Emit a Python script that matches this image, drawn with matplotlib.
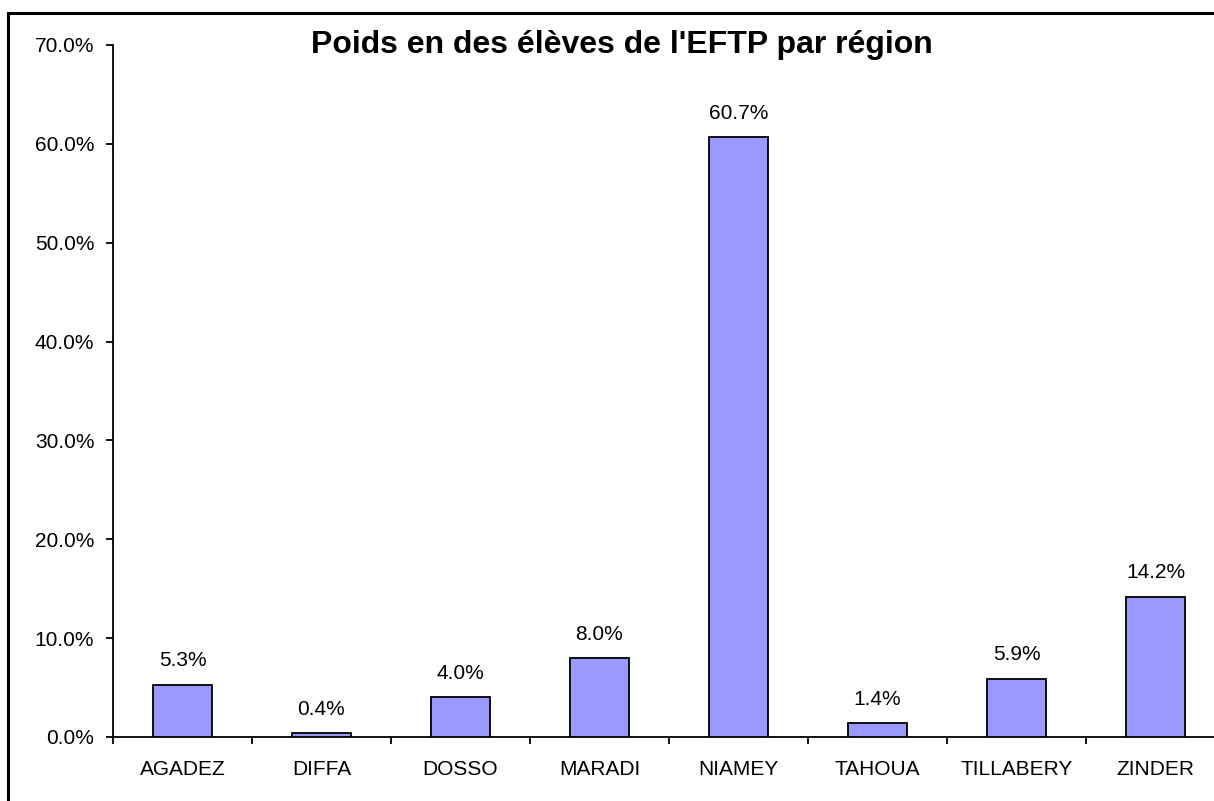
import matplotlib.pyplot as plt
import matplotlib.patches as mpatches
from matplotlib.ticker import FuncFormatter, FixedLocator
import numpy as np

plt.rcParams['font.family'] = ['Liberation Sans', 'DejaVu Sans']

# données
regions = ['AGADEZ', 'DIFFA', 'DOSSO', 'MARADI', 'NIAMEY', 'TAHOUA', 'TILLABERY', 'ZINDER']
poids = [5.3, 0.4, 4.0, 8.0, 60.7, 1.4, 5.9, 14.2]
titre = "Poids en des élèves de l'EFTP par région"

fig = plt.figure(figsize=(12.14, 8.01), dpi=100)

# cadre extérieur (coupé à droite et en bas)
W, H = 1214, 801
cadre = mpatches.Rectangle((8 / W, -0.1), 1.2, (801 - 13) / H + 0.1, transform=fig.transFigure,
                           fill=False, edgecolor='black', linewidth=2.2, clip_on=False)
fig.patches.append(cadre)

ax = fig.add_axes([113 / W, 1 - 737 / H, 1112 / W, (737 - 45) / H])

x = np.arange(len(regions))
ax.bar(x, poids, width=0.42, color='#9999FF', edgecolor='black', linewidth=1.3, zorder=3)
for xi, v in zip(x, poids):
    ax.text(xi, v + 1.85, f'{v:.1f}%', ha='center', va='baseline', fontsize=15)

ax.set_xlim(-0.5, len(regions) - 0.5)
ax.set_ylim(0, 70)
ax.yaxis.set_major_locator(FixedLocator(np.arange(0, 71, 10)))
ax.yaxis.set_major_formatter(FuncFormatter(lambda v, p: f'{v:.1f}%'))

ax.set_xticks(x)
ax.set_xticklabels(regions)
ax.set_xticks(np.arange(-0.5, len(regions) + 0.5, 1), minor=True)
ax.tick_params(axis='x', which='major', length=0, pad=16.5, labelsize=15)
ax.tick_params(axis='x', which='minor', length=5, width=1.3, direction='out')
ax.tick_params(axis='y', length=5, width=1.3, direction='out', labelsize=15, pad=8.5)

ax.spines['top'].set_visible(False)
ax.spines['right'].set_visible(False)
ax.spines['left'].set_linewidth(1.3)
ax.spines['bottom'].set_linewidth(1.3)
ax.patch.set_visible(False)

fig.text(622 / W, 1 - 53 / H, titre, ha='center', va='baseline', fontsize=23, fontweight='bold')

fig.savefig('out.png', dpi=100)
